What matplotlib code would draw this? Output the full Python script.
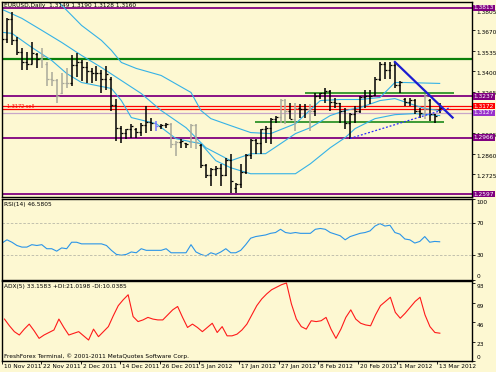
import matplotlib
matplotlib.use('Agg')
import matplotlib.pyplot as plt
from matplotlib.transforms import ScaledTranslation

# EURUSD daily, 10 Nov 2011 .. 13 Mar 2012
highs = [1.3647, 1.3745, 1.3785, 1.3621, 1.3549, 1.3523, 1.3588, 1.3516, 1.3549, 1.3457,
         1.3392, 1.3352, 1.3385, 1.3424, 1.3503, 1.3516, 1.3470, 1.3457, 1.3418, 1.3437,
         1.3405, 1.3437, 1.3359, 1.3221, 1.3044, 1.3025, 1.3057, 1.3031, 1.3064, 1.3175,
         1.3097, 1.3077, 1.3057, 1.3064, 1.3064, 1.2946, 1.2959, 1.2933, 1.3057, 1.3057,
         1.2926, 1.2795, 1.2769, 1.2782, 1.2795, 1.2835, 1.2861, 1.2671, 1.2795, 1.2861,
         1.2959, 1.2959, 1.3025, 1.3044, 1.3097, 1.3110, 1.3221, 1.3221, 1.3195, 1.3195,
         1.3188, 1.3188, 1.3188, 1.3260, 1.3260, 1.3293, 1.3274, 1.3228, 1.3195, 1.3162,
         1.3130, 1.3175, 1.3241, 1.3274, 1.3274, 1.3359, 1.3457, 1.3463, 1.3457, 1.3457,
         1.3339, 1.3228, 1.3228, 1.3221, 1.3162, 1.3254, 1.3221, 1.3123, 1.3190]
lows = [1.3490, 1.3581, 1.3568, 1.3503, 1.3405, 1.3405, 1.3450, 1.3424, 1.3424, 1.3306,
        1.3306, 1.3195, 1.3254, 1.3287, 1.3306, 1.3359, 1.3339, 1.3326, 1.3320, 1.3339,
        1.3260, 1.3274, 1.3143, 1.2946, 1.2933, 1.2959, 1.2966, 1.2966, 1.2979, 1.2998,
        1.3012, 1.3012, 1.3025, 1.3031, 1.2900, 1.2848, 1.2900, 1.2900, 1.2900, 1.2894,
        1.2769, 1.2704, 1.2651, 1.2716, 1.2651, 1.2716, 1.2606, 1.2606, 1.2638, 1.2730,
        1.2828, 1.2861, 1.2861, 1.2933, 1.2926, 1.3064, 1.3064, 1.3054, 1.3090, 1.3012,
        1.3097, 1.3097, 1.3012, 1.3110, 1.3221, 1.3195, 1.3143, 1.3162, 1.3064, 1.3025,
        1.2959, 1.3064, 1.3130, 1.3162, 1.3188, 1.3241, 1.3339, 1.3352, 1.3352, 1.3287,
        1.3260, 1.3175, 1.3175, 1.3123, 1.3097, 1.3090, 1.3077, 1.3064, 1.3128]
opens = [1.3540, 1.3610, 1.3740, 1.3605, 1.3525, 1.3460, 1.3450, 1.3510, 1.3480, 1.3450,
         1.3350, 1.3340, 1.3260, 1.3320, 1.3320, 1.3440, 1.3460, 1.3430, 1.3400, 1.3390,
         1.3390, 1.3350, 1.3350, 1.3180, 1.3030, 1.2995, 1.3020, 1.3025, 1.3000, 1.3050,
         1.3070, 1.3060, 1.3045, 1.3050, 1.3055, 1.2925, 1.2940, 1.2930, 1.2935, 1.3050,
         1.2920, 1.2790, 1.2720, 1.2760, 1.2770, 1.2720, 1.2820, 1.2640, 1.2660, 1.2740,
         1.2850, 1.2950, 1.2930, 1.3020, 1.3030, 1.3090, 1.3100, 1.3210, 1.3140, 1.3090,
         1.3160, 1.3150, 1.3150, 1.3140, 1.3240, 1.3255, 1.3270, 1.3200, 1.3190, 1.3140,
         1.3060, 1.3120, 1.3140, 1.3230, 1.3240, 1.3245, 1.3350, 1.3450, 1.3410, 1.3440,
         1.3310, 1.3220, 1.3200, 1.3210, 1.3140, 1.3130, 1.3210, 1.3120, 1.3149]
closes = [1.3610, 1.3740, 1.3605, 1.3525, 1.3460, 1.3450, 1.3520, 1.3480, 1.3500, 1.3350,
          1.3340, 1.3240, 1.3320, 1.3320, 1.3440, 1.3460, 1.3430, 1.3400, 1.3390, 1.3390,
          1.3350, 1.3380, 1.3180, 1.3030, 1.2995, 1.3020, 1.3040, 1.3000, 1.3050, 1.3070,
          1.3060, 1.3045, 1.3050, 1.3055, 1.2925, 1.2940, 1.2945, 1.2925, 1.3050, 1.2940,
          1.2790, 1.2720, 1.2760, 1.2770, 1.2720, 1.2820, 1.2680, 1.2660, 1.2740, 1.2850,
          1.2950, 1.2930, 1.3020, 1.3030, 1.3090, 1.3100, 1.3210, 1.3140, 1.3090, 1.3160,
          1.3150, 1.3150, 1.3140, 1.3240, 1.3255, 1.3270, 1.3200, 1.3190, 1.3140, 1.3060,
          1.3120, 1.3140, 1.3230, 1.3240, 1.3240, 1.3350, 1.3450, 1.3410, 1.3440, 1.3310,
          1.3330, 1.3200, 1.3210, 1.3140, 1.3130, 1.3240, 1.3120, 1.3110, 1.3160]
gray_bars = [8, 9, 10, 11, 12, 13, 34, 35, 38, 39, 56, 57, 59, 62, 85]
blue_bars = [31]

# band lines (bar index, price)
upper_idx = [11, 13, 16, 20, 22, 24, 27, 32, 38, 40, 42, 46, 50, 54, 59, 64, 68, 72, 76, 79, 81, 88]
upper_val = [1.3863, 1.3798, 1.3699, 1.3601, 1.3536, 1.3457, 1.3418, 1.3372, 1.3261, 1.3143, 1.3090,
             1.3044, 1.2999, 1.2992, 1.3057, 1.3208, 1.3215, 1.3215, 1.3228, 1.3326, 1.3326, 1.3320]
mid_idx = [0, 4, 8, 12, 16, 20, 24, 28, 32, 37, 41, 46, 50, 53, 56, 59, 62, 66, 69, 72, 76, 79, 82, 85, 88]
mid_val = [1.3804, 1.3745, 1.3667, 1.3588, 1.3503, 1.3424, 1.3339, 1.3254, 1.3143, 1.3031, 1.2900,
           1.2815, 1.2861, 1.2861, 1.2926, 1.2992, 1.3031, 1.3110, 1.3143, 1.3162, 1.3208, 1.3221,
           1.3188, 1.3156, 1.3143]
lower_idx = [0, 2, 6, 10, 13, 16, 22, 24, 26, 31, 35, 40, 43, 46, 50, 59, 62, 66, 69, 71, 75, 79, 83, 88]
lower_val = [1.3654, 1.3647, 1.3555, 1.3470, 1.3385, 1.3326, 1.3287, 1.3208, 1.3097, 1.3057, 1.2959,
             1.2926, 1.2815, 1.2769, 1.2730, 1.2730, 1.2795, 1.2900, 1.2966, 1.3025, 1.3090, 1.3116,
             1.3123, 1.3110]

rsi = [45, 49, 46, 42, 40, 40, 43, 42, 43, 38,
       38, 35, 39, 38, 46, 46, 44, 44, 44, 44,
       44, 42, 36, 31, 30, 31, 34, 33, 38, 36,
       36, 36, 36, 38, 33, 33, 33, 33, 43, 34,
       31, 29, 33, 31, 34, 38, 33, 33, 36, 43,
       51, 53, 54, 55, 57, 58, 62, 58, 57, 58,
       57, 57, 57, 62, 63, 62, 58, 56, 54, 49,
       53, 55, 57, 58, 60, 66, 69, 66, 67, 58,
       56, 50, 49, 45, 47, 53, 46, 47, 46.58]
adx = [50, 42, 35, 31, 38, 44, 36, 27, 31, 34,
       37, 50, 40, 31, 33, 35, 30, 25, 38, 29,
       35, 41, 54, 66, 73, 79, 53, 47, 49, 52,
       50, 49, 49, 55, 61, 65, 52, 40, 44, 40,
       35, 40, 45, 34, 41, 30, 30, 32, 37, 44,
       55, 66, 74, 80, 85, 88, 91, 93, 68, 50,
       41, 38, 48, 47, 48, 52, 38, 27, 38, 52,
       61, 50, 45, 43, 42, 55, 66, 71, 76, 58,
       51, 57, 64, 71, 76, 55, 41, 34, 33.16]

date_labels = ['10 Nov 2011', '22 Nov 2011', '2 Dec 2011', '14 Dec 2011', '26 Dec 2011', '5 Jan 2012',
               '17 Jan 2012', '27 Jan 2012', '8 Feb 2012', '20 Feb 2012', '1 Mar 2012', '13 Mar 2012']
date_bars = [0, 8, 16, 24, 32, 40, 48, 56, 64, 72, 80, 88]

price_ticks = [1.3805, 1.3670, 1.3535, 1.3400, 1.3265, 1.3130, 1.2995, 1.2860, 1.2725, 1.2590]
hidden_ticks = [1.3130, 1.2590]   # covered by the level boxes in the terminal
purple_levels = [1.3813, 1.3237, 1.2966, 1.2597]
green_level = 1.3477
red_levels = [1.3172, 1.3154]
pink_level = 1.3127

W, H = 496, 372
BG = '#fdf8d2'
FS = 4.2
CYAN = '#35b2e6'
PURPLE = '#800080'
GREEN = '#0a800a'

plt.rcParams['font.family'] = 'DejaVu Sans'
fig = plt.figure(figsize=(W / 100, H / 100), dpi=100, facecolor=BG)


def panel(top, bottom):
    a = fig.add_axes([1.5 / W, 1 - bottom / H, 470.5 / W, (bottom - top) / H], facecolor=BG)
    a.set_xlim(-0.1, 94.5)
    for s in a.spines.values():
        s.set_color('black')
        s.set_linewidth(1.0)
    a.yaxis.tick_right()
    a.tick_params(axis='y', length=2, width=0.6, pad=1.5, labelsize=FS, colors='black')
    a.set_xticks([])
    return a


def shift_labels(a, dy_default, special=None):
    special = special or {}
    for lbl in a.get_yticklabels():
        dy = special.get(lbl.get_text(), dy_default)
        lbl.set_transform(lbl.get_transform() + ScaledTranslation(0, dy / 100, fig.dpi_scale_trans))


ax = panel(2, 197)
ax_rsi = panel(198.5, 279.5)
ax_adx = panel(280.5, 361)

# ---- main price panel
idx = list(range(len(closes)))
colors = ['#a9a99b' if i in gray_bars else '#7878ff' if i in blue_bars else 'black' for i in idx]

for lvl in purple_levels:
    ax.axhline(lvl, color=PURPLE, lw=1.3, zorder=1)
ax.axhline(green_level, color=GREEN, lw=1.6, zorder=1)
for lvl in red_levels:
    ax.axhline(lvl, color='#ff0000', lw=0.9, zorder=1)
ax.axhline(pink_level, color='#c9a6c9', lw=0.9, zorder=1)
ax.hlines(1.3259, 60.9, 90.8, color=GREEN, lw=1.1, zorder=1)
ax.hlines(1.3067, 50.8, 88.8, color=GREEN, lw=1.1, zorder=1)

ax.plot(upper_idx, upper_val, color=CYAN, lw=0.8, zorder=2)
ax.plot(mid_idx, mid_val, color=CYAN, lw=0.8, zorder=2)
ax.plot(lower_idx, lower_val, color=CYAN, lw=0.8, zorder=2)

ax.vlines(idx, lows, highs, colors=colors, lw=1.1, zorder=3)
ax.hlines(opens, [i - 0.4 for i in idx], idx, colors=colors, lw=0.9, zorder=3)
ax.hlines(closes, idx, [i + 0.4 for i in idx], colors=colors, lw=0.9, zorder=3)

ax.plot([79, 90.6], [1.3460, 1.3097], color='#1c1cd0', lw=1.6, zorder=4)
ax.plot([70, 90.2], [1.2961, 1.3162], color='#2a2aff', lw=0.9, ls=(0, (1.5, 1.5)), zorder=4)

ax.set_ylim(1.2578, 1.3852)
ax.set_yticks(price_ticks)
ax.set_yticklabels(['' if p in hidden_ticks else f'{p:.4f}' for p in price_ticks])
shift_labels(ax, -2, {'1.3805': -3, '1.3265': -1})

box_levels = [(1.3813, PURPLE), (1.3237, PURPLE), (1.3172, '#ff0000'), (1.3127, '#9932cc'),
              (1.2966, PURPLE), (1.2597, PURPLE)]
for val, col in box_levels:
    ax.text(1.003, val, f'{val:.4f}', transform=ax.get_yaxis_transform(), ha='left', va='center',
            fontsize=FS, color='white', clip_on=False, zorder=6,
            bbox=dict(boxstyle='square,pad=0.15', fc=col, ec='none'))

ax.text(0.006, 0.994, 'EURUSD,Daily  1.3149 1.3190 1.3128 1.3160', transform=ax.transAxes,
        ha='left', va='top', fontsize=FS, color='black', zorder=7)
ax.text(1.0, 1.3172, '1.3172 sell', ha='left', va='center', fontsize=3.6, color='#ff0000', zorder=7)

# ---- RSI panel
ax_rsi.plot(idx, rsi, color='#2b95e8', lw=0.8)
for lvl in (70, 30):
    ax_rsi.axhline(lvl, color='#b8b8a8', lw=0.6, ls=(0, (3, 2)))
ax_rsi.set_ylim(0.9, 100)
ax_rsi.set_yticks([100, 70, 30, 0])
ax_rsi.set_yticklabels(['100', '70', '30', '0'])
shift_labels(ax_rsi, 0, {'100': -3.5, '0': 4})
ax_rsi.text(0.006, 0.96, 'RSI(14) 46.5805', transform=ax_rsi.transAxes, ha='left', va='top',
            fontsize=FS, color='black')

# ---- ADX panel
ax_adx.plot(idx, adx, color='#ff1a1a', lw=0.8)
ax_adx.set_ylim(0, 96)
ax_adx.set_yticks([93, 69, 46, 23, 0])
ax_adx.set_yticklabels(['93', '69', '46', '23', '0'])
shift_labels(ax_adx, -2.5, {'0': 4})
ax_adx.text(0.006, 0.96, 'ADX(5) 33.1583 +DI:21.0198 -DI:10.0385', transform=ax_adx.transAxes,
            ha='left', va='top', fontsize=FS, color='black')
ax_adx.text(0.006, 0.03, 'FreshForex Terminal, \u00a9 2001-2011 MetaQuotes Software Corp.',
            transform=ax_adx.transAxes, ha='left', va='bottom', fontsize=FS, color='black')

ax_adx.set_xticks([b - 0.6 for b in date_bars])
ax_adx.tick_params(axis='x', length=2.5, width=0.6, direction='out', labelbottom=False)
for b, lab in zip(date_bars, date_labels):
    ax_adx.annotate(lab, xy=(b - 0.6, 0), xycoords=('data', 'axes fraction'),
                    xytext=(2, -3), textcoords='offset pixels', ha='left', va='top',
                    fontsize=FS, color='black', annotation_clip=False)

fig.savefig('out.png', dpi=100, facecolor=BG)
